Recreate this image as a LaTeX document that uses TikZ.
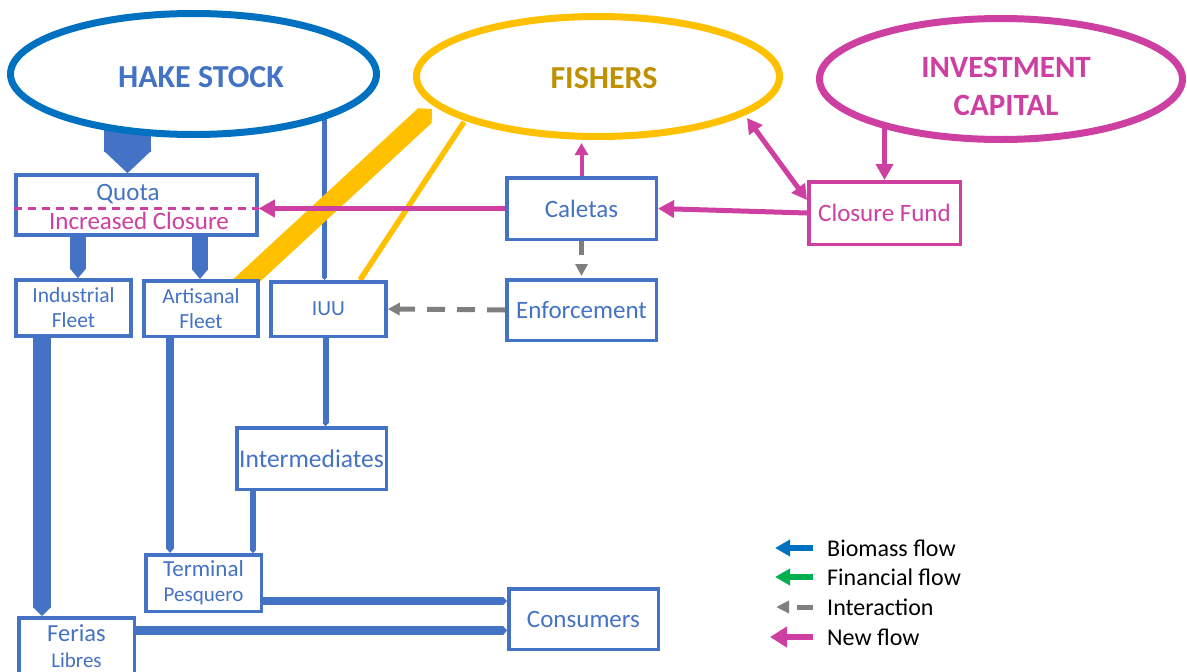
\documentclass[tikz,border=0pt]{standalone}
\usepackage{fontspec}
\setmainfont{Carlito}
\usetikzlibrary{arrows.meta,shapes.geometric,backgrounds,calc}
\definecolor{boxblue}{HTML}{4472C4}
\definecolor{stockblue}{HTML}{0070C0}
\definecolor{fishyellow}{HTML}{FFC000}
\definecolor{fishgold}{HTML}{BF9000}
\definecolor{newpink}{RGB}{205,63,160}
\definecolor{intgray}{HTML}{7F7F7F}
\definecolor{fingreen}{HTML}{00B050}
\newcommand{\fsz}[2]{\fontsize{#1}{#2}\selectfont}
\begin{document}
\begin{tikzpicture}[x=1pt,y=-1pt,
  stockoval/.style={ellipse, line width=7pt, fill=white, inner sep=0pt},
  flowbox/.style={rectangle, draw=boxblue, line width=3.5pt, fill=white, inner sep=0pt,
                  text=boxblue, align=center, font=\fsz{25}{30}},
  bigtxt/.style={inner sep=0pt, align=center},
  bioflow/.style={draw=boxblue, line cap=butt},
  newflow/.style={draw=newpink, line width=5pt, -{Triangle[length=16pt,width=17pt]}},
  interflow/.style={draw=intgray, line width=5pt, -{Triangle[length=12pt,width=12pt]}},
  legtxt/.style={anchor=west, inner sep=0pt, font=\fsz{24}{28}, text=black},
]
\useasboundingbox (0,0) rectangle (1187,672);

% stocks
\node[stockoval, draw=stockblue, minimum width=366pt, minimum height=121pt] (hake) at (193.5,74) {};
\node[stockoval, draw=fishyellow, minimum width=363pt, minimum height=120pt] (fish) at (598,76.5) {};
\node[stockoval, draw=newpink, minimum width=363pt, minimum height=121pt] (inv) at (1001,79) {};
\node[bigtxt, text=boxblue, font=\bfseries\fsz{32}{38}] (hakelbl) at (201,77) {HAKE STOCK};
\node[bigtxt, text=fishgold, font=\bfseries\fsz{32}{38}] (fishlbl) at (604,78) {FISHERS};
\node[bigtxt, text=newpink, font=\bfseries\fsz{31}{38}] (invlbl) at (1006,86) {INVESTMENT\\CAPITAL};

% management and fleets
\node[flowbox, minimum width=241pt, minimum height=60pt] (quota) at (136.5,205) {};
\node[anchor=base, inner sep=0pt, text=boxblue, font=\fsz{25}{30}] (quotalbl) at (128,200) {Quota};
\node[anchor=base, inner sep=0pt, text=newpink, font=\fsz{25}{30}] (closelbl) at (139,229) {Increased Closure};

\node[flowbox, minimum width=115pt, minimum height=56pt, font=\fsz{21.5}{25}] (ind) at (73.5,308) {Industrial\\Fleet};
\node[flowbox, minimum width=114pt, minimum height=55.5pt, font=\fsz{21.5}{25}] (art) at (201,308.5) {Artisanal\\Fleet};
\node[flowbox, minimum width=115pt, minimum height=54.5pt, font=\fsz{21.5}{25}] (iuu) at (328.5,309) {IUU};
\node[flowbox, minimum width=149.5pt, minimum height=61.5pt] (cal) at (581.5,208.5) {Caletas};
\node[flowbox, minimum width=149.5pt, minimum height=60.5pt] (enf) at (581.5,310) {Enforcement};
\node[flowbox, draw=newpink, text=newpink, minimum width=151.5pt, minimum height=62.5pt] (cf) at (884.5,213) {Closure Fund};

% markets
\node[flowbox, minimum width=149.5pt, minimum height=61.5pt, font=\fsz{25.5}{30}] (inter) at (311.5,458.5) {Intermediates};
\node[flowbox, minimum width=115.5pt, minimum height=56.5pt, font=\fsz{23}{25}] (term) at (203.5,583) {Terminal\\{\fsz{21}{25}Pesquero}};
\node[flowbox, minimum width=115.5pt, minimum height=56.5pt, font=\fsz{24.5}{26}] (fer) at (76.5,646) {Ferias\\{\fsz{21}{26}Libres}};
\node[flowbox, minimum width=149.5pt, minimum height=60.5pt] (cons) at (583.5,619) {Consumers};

% legend
\node[legtxt] (lbio) at (827,548) {Biomass flow};
\node[legtxt] (lfin) at (827,577) {Financial flow};
\node[legtxt] (lint) at (827,607) {Interaction};
\node[legtxt] (lnew) at (827,637) {New flow};

\coordinate (bandfoot) at (233,293);
\coordinate (bandtip) at (432,109);
\coordinate (fishsw) at (464,122);
\coordinate (fishbot) at (581.5,143);
\coordinate (fishse) at (747,118);

\begin{pgfonlayer}{background}
  % biomass flows
  \draw[bioflow, line width=47pt, -{Triangle[length=23pt,width=47pt]}]
    ($(quota.north |- hake.center)+(-9,0)$) -- ($(quota.north)+(-9,0)$);
  \draw[bioflow, line width=16pt, -{Triangle[length=10pt,width=16pt]}]
    ($(ind.north |- quota.center)+(4.5,0)$) -- ($(ind.north)+(4.5,0)$);
  \draw[bioflow, line width=16pt, -{Triangle[length=10pt,width=16pt]}]
    ($(art.north |- quota.center)+(-1,0)$) -- ($(art.north)+(-1,0)$);
  \draw[bioflow, line width=5.5pt, -{Triangle[length=3pt,width=5.5pt]}]
    ($(iuu.north |- hake.center)+(-4,0)$) -- ($(iuu.north)+(-4,0)$);
  \draw[bioflow, line width=18pt, -{Triangle[length=9pt,width=18pt]}]
    ($(ind.south)+(-31.5,0)$) -- ($(fer.north)+(-34.5,0)$);
  \draw[bioflow, line width=8pt, -{Triangle[length=5pt,width=8pt]}]
    ($(art.south)+(-31,0)$) -- ($(term.north)+(-33.5,0)$);
  \draw[bioflow, line width=6pt, -{Triangle[length=3pt,width=6pt]}]
    ($(iuu.south)+(-3,0)$) -- ($(iuu.south |- inter.north)+(-3,0)$);
  \draw[bioflow, line width=6pt, -{Triangle[length=3pt,width=6pt]}]
    ($(inter.south)+(-58.5,0)$) -- ($(term.north)+(49.5,0)$);
  \draw[bioflow, line width=8pt, -{Triangle[length=4pt,width=8pt]}]
    ($(term.east)+(0,18)$) -- ($(cons.west)+(0,-18)$);
  \draw[bioflow, line width=9pt, -{Triangle[length=4pt,width=9pt]}]
    ($(fer.east)+(0,-15.5)$) -- ($(cons.west)+(0,11.5)$);
  % fishers to fleets
  \draw[fishyellow, line width=20pt, -{Triangle[length=10pt,width=20pt]}] (bandfoot) -- (bandtip);
  \draw[fishyellow, line width=5.5pt] (fishsw) -- ($(iuu.north)+(31.5,0)$);
  % capital to fund
  \draw[newflow] (cf.north |- inv.center) -- (cf.north);
\end{pgfonlayer}

% new flows
\draw[newflow] (cf.west) -- (cal.east);
\draw[newflow] (cal.west) -- (cal.west -| quota.east);
\draw[newpink, line width=2.5pt, dash pattern=on 8pt off 6pt] (quota.west |- cal.west) -- (quota.east |- cal.west);
\draw[newpink, line width=4pt, -{Triangle[length=12pt,width=13pt]}] (cal.north) -- (fishbot);
\draw[newpink, line width=5pt, {Triangle[length=15pt,width=16pt]}-{Triangle[length=15pt,width=16pt]}]
  (fishse) -- ($(cf.west)+(0,-13)$);

% interactions
\draw[interflow, dash pattern=on 14pt off 30pt, shorten >=2pt] (cal.south) -- (enf.north);
\draw[interflow, dash pattern=on 18pt off 12pt] (enf.west) -- (iuu.east);

% legend keys
\draw[stockblue, line width=6pt, -{Triangle[length=15pt,width=16pt]}] ($(lbio.west)+(-14,0)$) -- ($(lbio.west)+(-52,0)$);
\draw[fingreen, line width=6pt, -{Triangle[length=15pt,width=16pt]}] ($(lfin.west)+(-14,0)$) -- ($(lfin.west)+(-52,0)$);
\draw[intgray, line width=5pt, dash pattern=on 16pt off 20pt, -{Triangle[length=13pt,width=12pt]}] ($(lint.west)+(-14,0)$) -- ($(lint.west)+(-51,0)$);
\draw[newpink, line width=6pt, -{Triangle[length=17pt,width=20pt]}] ($(lnew.west)+(-14,0)$) -- ($(lnew.west)+(-57,0)$);
\end{tikzpicture}
\end{document}
